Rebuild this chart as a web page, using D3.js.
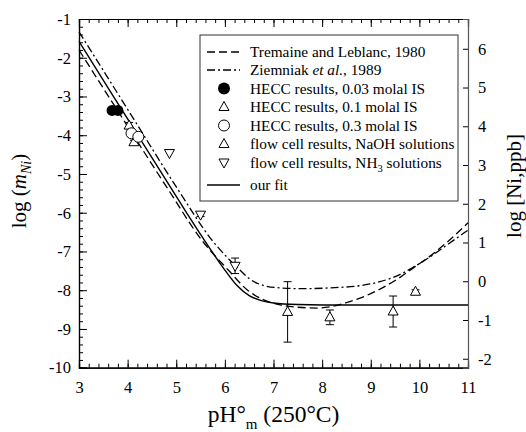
<!DOCTYPE html>
<html><head><meta charset="utf-8">
<script src="https://cdn.jsdelivr.net/npm/d3@7"></script>
<style>
body{margin:0;background:#fff;}
svg text{font-family:"Liberation Serif","Times New Roman",serif;fill:#000;}
</style></head>
<body><svg id="c" width="526" height="432"></svg>
<script>
// ---- data ----
const xTicks = [3,4,5,6,7,8,9,10,11];
const yTicks = [-1,-2,-3,-4,-5,-6,-7,-8,-9,-10];
const ppbTicks = [6,5,4,3,2,1,0,-1,-2];
const ppbOffset = 7.7686; // log10(58.6934e6): molal -> ppb

const fitPH  = [3, 4, 5, 5.5, 6, 6.25, 6.5, 6.75, 7, 7.5, 8, 9, 10, 11];
const fitLog = [-1.58, -3.58, -5.58, -6.56, -7.48, -7.88, -8.14, -8.27, -8.33, -8.37, -8.38, -8.38, -8.38, -8.38];

const tremPH  = [3, 4, 4.84, 5.52, 6.07, 6.45, 6.8, 7.14, 7.5, 7.9, 8.16, 8.5, 8.85, 9.19, 9.54, 9.87, 10.22, 10.57, 11];
const tremLog = [-1.80, -3.77, -5.41, -6.70, -7.48, -7.98, -8.25, -8.38, -8.44, -8.46, -8.43, -8.32, -8.17, -7.97, -7.72, -7.43, -7.12, -6.76, -6.26];

const ziemPH  = [3, 4, 5.04, 5.73, 6.31, 6.5, 6.8, 7.14, 7.6, 8.16, 8.85, 9.19, 9.54, 9.87, 10.22, 10.57, 11];
const ziemLog = [-1.33, -3.33, -5.41, -6.70, -7.48, -7.70, -7.88, -7.94, -7.96, -7.94, -7.87, -7.78, -7.63, -7.41, -7.14, -6.83, -6.45];

const hecc003PH = [3.68, 3.80];
const hecc003Log = [-3.36, -3.36];

const hecc01PH = [4.03, 4.13];
const hecc01Log = [-3.75, -4.18];
const hecc01Err = [0.08, 0.05];

const hecc03PH = [4.08, 4.22];
const hecc03Log = [-3.95, -4.04];

const naohPH  = [7.29, 8.16, 9.46, 9.92];
const naohLog = [-8.56, -8.70, -8.55, -8.04];
const naohErr = [0.78, 0.19, 0.40, 0.05];

const nh3PH  = [4.86, 5.50, 6.21];
const nh3Log = [-4.46, -6.05, -7.37];
const nh3Err = [0, 0.05, 0.2];

// ---- chart ----
const svg = d3.select("#c");
const L = 79, R = 468, T = 19, B = 367.7;
const x = d3.scaleLinear().domain([3,11]).range([L,R]);
const y = d3.scaleLinear().domain([-10,-1]).range([B,T]);
const yR = d3.scaleLinear().domain([-10+ppbOffset, -1+ppbOffset]).range([B,T]);

const minorX = d3.range(3, 11.001, 0.2);
const minorY = d3.range(-10, -0.999, 0.2);
const fmt = d => String(d); // plain hyphen-minus as in the reference

// bottom axis (ticks inward)
const gB = svg.append("g").attr("transform",`translate(0,${B})`);
gB.call(d3.axisBottom(x).tickValues(minorX).tickSize(-4).tickFormat(""));
gB.call(g=>g.append("g").call(d3.axisBottom(x).tickValues(xTicks).tickSize(-8).tickPadding(14).tickFormat(fmt)));
// top axis
const gT = svg.append("g").attr("transform",`translate(0,${T})`);
gT.call(d3.axisTop(x).tickValues(minorX).tickSize(-4).tickFormat(""));
gT.call(g=>g.append("g").call(d3.axisTop(x).tickValues(xTicks).tickSize(-8).tickFormat("")));
// left axis
const gL = svg.append("g").attr("transform",`translate(${L},0)`);
gL.call(d3.axisLeft(y).tickValues(minorY).tickSize(-4).tickFormat(""));
gL.call(g=>g.append("g").call(d3.axisLeft(y).tickValues(yTicks).tickSize(-8).tickPadding(8).tickFormat(fmt)));
// right axis
const gR = svg.append("g").attr("transform",`translate(${R},0)`);
gR.call(d3.axisRight(yR).tickValues(ppbTicks).tickSize(-5).tickPadding(10).tickFormat(fmt));

svg.selectAll("g").attr("font-family","Liberation Serif");
svg.selectAll(".domain").attr("stroke","#000").attr("stroke-width",1.2);
gR.selectAll(".domain").attr("stroke","#555");
svg.selectAll(".tick line").attr("stroke","#000");
svg.selectAll(".tick text").attr("font-size",16.5).attr("font-family","Liberation Serif").style("font-family","'Liberation Serif', serif");
gB.selectAll(".tick text").attr("dy","0.71em");

// axis titles
const xt = svg.append("text").attr("x",(L+R)/2).attr("y",422).attr("text-anchor","middle").attr("font-size",23.5);
xt.append("tspan").text("pH°");
xt.append("tspan").attr("font-size",15).attr("dy",7).text("m");
xt.append("tspan").attr("dy",-7).text(" (250°C)");

const ylt = svg.append("text").attr("transform","translate(26,191) rotate(-90)").attr("text-anchor","middle").attr("font-size",21);
ylt.append("tspan").text("log (");
ylt.append("tspan").attr("font-style","italic").text("m");
ylt.append("tspan").attr("font-style","italic").attr("font-size",14).attr("dy",5).text("Ni");
ylt.append("tspan").attr("dy",-5).text(")");

svg.append("text").attr("transform","translate(521,186) rotate(-90)").attr("text-anchor","middle").attr("font-size",21).text("log [Ni,ppb]");

// curves
const line = d3.line().x(d=>x(d[0])).y(d=>y(d[1])).curve(d3.curveMonotoneX);
const zip = (a,b)=>a.map((v,i)=>[v,b[i]]);
const plot = svg.append("g");
plot.append("path").datum(zip(tremPH,tremLog)).attr("d",line).attr("fill","none").attr("stroke","#000").attr("stroke-width",1.3).attr("stroke-dasharray","8,4");
plot.append("path").datum(zip(ziemPH,ziemLog)).attr("d",line).attr("fill","none").attr("stroke","#000").attr("stroke-width",1.3).attr("stroke-dasharray","8,3,2,3");
plot.append("path").datum(zip(fitPH,fitLog)).attr("d",line).attr("fill","none").attr("stroke","#000").attr("stroke-width",1.4);

// markers
const triUp = "M0,-5.5L5,3.5L-5,3.5Z";
const triDown = "M0,5.5L5,-3.5L-5,-3.5Z";
function errBars(ph, lg, er){
  ph.forEach((p,i)=>{
    if(!er[i]) return;
    const cx = x(p), y1 = y(lg[i]+er[i]), y2 = y(lg[i]-er[i]);
    plot.append("line").attr("x1",cx).attr("x2",cx).attr("y1",y1).attr("y2",y2).attr("stroke","#000").attr("stroke-width",1);
    [y1,y2].forEach(yy=>plot.append("line").attr("x1",cx-4).attr("x2",cx+4).attr("y1",yy).attr("y2",yy).attr("stroke","#000").attr("stroke-width",1));
  });
}
errBars(naohPH, naohLog, naohErr);
errBars(nh3PH, nh3Log, nh3Err);
errBars(hecc01PH, hecc01Log, hecc01Err);

plot.selectAll(".h003").data(zip(hecc003PH,hecc003Log)).join("circle")
  .attr("cx",d=>x(d[0])).attr("cy",d=>y(d[1])).attr("r",5.5).attr("fill","#000");
plot.selectAll(".h01").data(zip(hecc01PH,hecc01Log)).join("path")
  .attr("transform",d=>`translate(${x(d[0])},${y(d[1])})`).attr("d",triUp).attr("fill","#fff").attr("stroke","#000");
plot.selectAll(".h03").data(zip(hecc03PH,hecc03Log)).join("circle")
  .attr("cx",d=>x(d[0])).attr("cy",d=>y(d[1])).attr("r",5.5).attr("fill","#fff").attr("stroke","#000");
plot.selectAll(".na").data(zip(naohPH,naohLog)).join("path")
  .attr("transform",d=>`translate(${x(d[0])},${y(d[1])})`).attr("d",triUp).attr("fill","#fff").attr("stroke","#000");
plot.selectAll(".nh").data(zip(nh3PH,nh3Log)).join("path")
  .attr("transform",d=>`translate(${x(d[0])},${y(d[1])})`).attr("d",triDown).attr("fill","#fff").attr("stroke","#000");

// legend
const lg = svg.append("g");
lg.append("rect").attr("x",200).attr("y",35).attr("width",258).attr("height",166).attr("fill","#fff").attr("stroke","#333").attr("stroke-width",1);
const rows = [52, 70, 88.5, 107, 125.5, 144, 162.5, 185];
const sx1 = 207, sx2 = 240, scx = 224, tx = 250;
lg.append("line").attr("x1",sx1).attr("x2",sx2).attr("y1",rows[0]).attr("y2",rows[0]).attr("stroke","#000").attr("stroke-width",1.3).attr("stroke-dasharray","8,4");
lg.append("line").attr("x1",sx1).attr("x2",sx2).attr("y1",rows[1]).attr("y2",rows[1]).attr("stroke","#000").attr("stroke-width",1.3).attr("stroke-dasharray","8,3,2,3");
lg.append("circle").attr("cx",scx).attr("cy",rows[2]).attr("r",6).attr("fill","#000");
lg.append("path").attr("transform",`translate(${scx},${rows[3]})`).attr("d",triUp).attr("fill","#fff").attr("stroke","#000");
lg.append("circle").attr("cx",scx).attr("cy",rows[4]).attr("r",5.5).attr("fill","#fff").attr("stroke","#000");
lg.append("path").attr("transform",`translate(${scx},${rows[5]})`).attr("d",triUp).attr("fill","#fff").attr("stroke","#000");
lg.append("path").attr("transform",`translate(${scx},${rows[6]})`).attr("d",triDown).attr("fill","#fff").attr("stroke","#000");
lg.append("line").attr("x1",sx1).attr("x2",sx2).attr("y1",rows[7]).attr("y2",rows[7]).attr("stroke","#000").attr("stroke-width",1.4);

function ltext(i){ return lg.append("text").attr("x",tx).attr("y",rows[i]).attr("dy","0.35em").attr("font-size",15.3); }
ltext(0).text("Tremaine and Leblanc, 1980");
const z = ltext(1); z.append("tspan").text("Ziemniak "); z.append("tspan").attr("font-style","italic").text("et al."); z.append("tspan").text(", 1989");
ltext(2).text("HECC results, 0.03 molal IS");
ltext(3).text("HECC results, 0.1 molal IS");
ltext(4).text("HECC results, 0.3 molal IS");
ltext(5).text("flow cell results, NaOH solutions");
const n = ltext(6); n.append("tspan").text("flow cell results, NH"); n.append("tspan").attr("font-size",10.5).attr("dy",4).text("3"); n.append("tspan").attr("dy",-4).text(" solutions");
ltext(7).text("our fit");
</script></body></html>
